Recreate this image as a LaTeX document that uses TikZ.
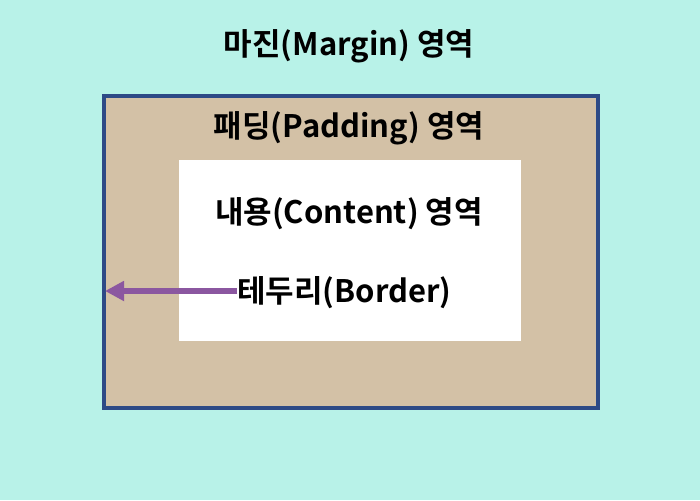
\documentclass[tikz,border=0pt]{standalone}
\usepackage{fontspec}
\newfontfamily\kr{Noto Sans CJK KR}[BoldFont={* Bold}]
\usetikzlibrary{arrows.meta}
\definecolor{mint}{HTML}{B8F2E8}
\definecolor{tan}{HTML}{D3C1A6}
\definecolor{bblue}{HTML}{2D4A86}
\definecolor{arrowpurple}{HTML}{8B57A0}
\tikzset{lbl/.style={font=\kr\bfseries\fontsize{31}{34}\selectfont, text=black, inner sep=0pt}}
\begin{document}
\begin{tikzpicture}[x=1pt,y=-1pt]
\fill[mint] (0,0) rectangle (700,500);
\useasboundingbox (0,0) rectangle (700,500);
\node[draw=bblue, line width=4pt, fill=tan, minimum width=494pt, minimum height=312pt, anchor=north west, inner sep=0pt] (border) at (102,94) {};
\node[fill=white, minimum width=342pt, minimum height=181pt, anchor=north west, inner sep=0pt] (content) at (179,160) {};
\node[lbl] (margin) at (349,46) {마진(Margin) 영역};
\node[lbl] (padding) at (349,128) {패딩(Padding) 영역};
\node[lbl] (contenttext) at (349,214) {내용(Content) 영역};
\node[lbl, anchor=west] (bordertext) at (237,293) {테두리(Border)};
\coordinate (tip) at (105,291);
\draw[arrowpurple, line width=5.5pt, -{Triangle[length=19pt,width=19pt]}] (bordertext.west |- tip) -- (tip);
\end{tikzpicture}
\end{document}
